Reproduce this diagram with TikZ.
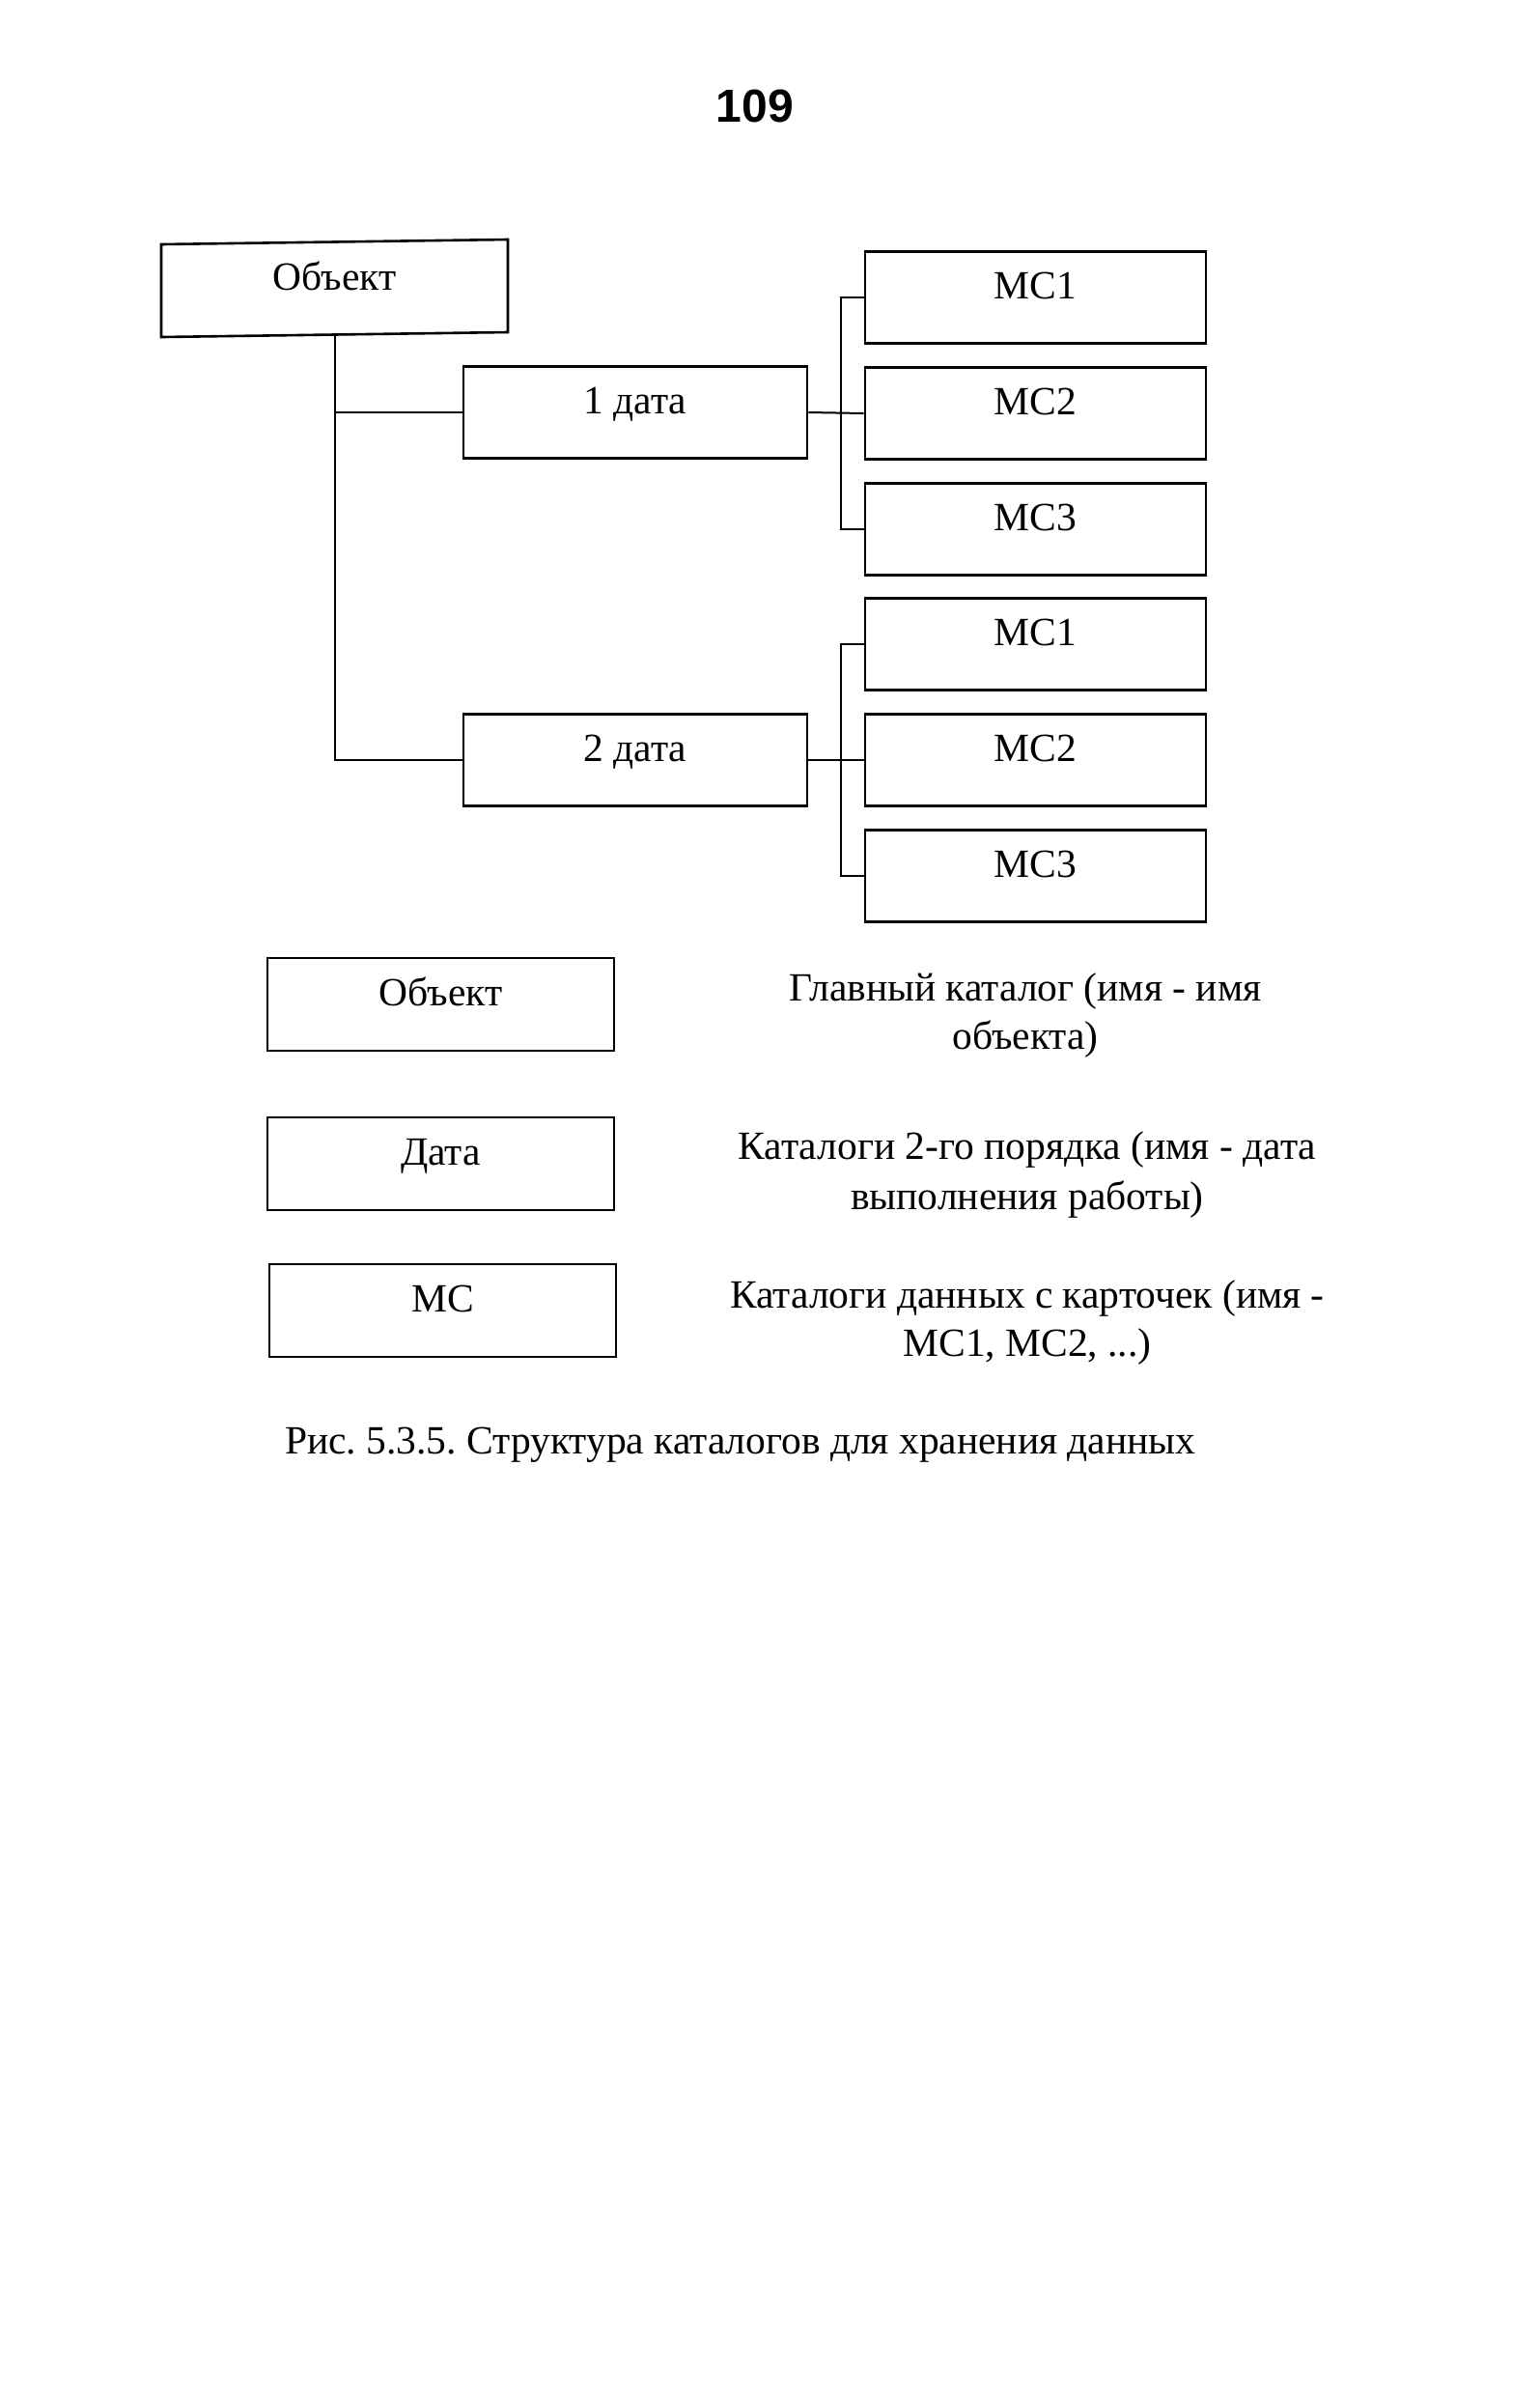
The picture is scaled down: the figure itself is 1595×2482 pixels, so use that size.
\documentclass[tikz,border=0pt]{standalone}
\usepackage{fontspec}
\setmainfont{Liberation Serif}
\newfontfamily\numfont{Liberation Sans}
\frenchspacing
\begin{document}
\begin{tikzpicture}[x=1pt,y=-1pt,
  txtfont/.style={font=\fontsize{41.5}{48}\selectfont},
  box/.style={draw, line width=2.6pt, inner sep=0pt, txtfont,
    text height=0.68em, text depth=0.32em},
  databox/.style={box, minimum width=356pt, minimum height=95pt},
  mcbox/.style={box, minimum width=353pt, minimum height=95pt},
  legbox/.style={box, minimum width=359pt, minimum height=96pt},
  legtxt/.style={inner sep=0pt, txtfont, text height=0.68em, text depth=0pt},
  conn/.style={line width=2pt}]
\useasboundingbox (0,0) rectangle (1595,2482);
\fill[white] (0,0) rectangle (1595,2482);

% page number
\node[inner sep=0pt, font=\numfont\bfseries\fontsize{48}{56}\selectfont, text height=0.72em, text depth=0pt] (pnum) at (782,123) {109};

% main catalogue (slightly skewed box)
\draw[line width=2.6pt] (167,253) -- (526,248) -- (526,344) -- (167,349) -- cycle;
\node[box, draw=none, minimum width=359pt, minimum height=96pt] (obj) at (346.5,298.5) {Объект};

% date catalogues
\node[databox] (d1) at (658,427) {1 дата};
\node[databox] (d2) at (658,787) {2 дата};

% MC catalogues
\node[mcbox] (m11) at (1072.5,308) {МС1};
\node[mcbox] (m12) at (1072.5,428) {МС2};
\node[mcbox] (m13) at (1072.5,548) {МС3};
\node[mcbox] (m21) at (1072.5,667) {МС1};
\node[mcbox] (m22) at (1072.5,787) {МС2};
\node[mcbox] (m23) at (1072.5,907) {МС3};

% connectors
\draw[conn] (obj.south) |- (d2.west);
\draw[conn] (obj.south |- d1.west) -- (d1.west);
\draw[conn] (d1.east) -- (m12.west);
\draw[conn] (m11.west) -- ++(-24,0) |- (m13.west);
\draw[conn] (d2.east) -- (m22.west);
\draw[conn] (m21.west) -- ++(-24,0) |- (m23.west);

% legend
\node[legbox] (l1) at (456.5,1040) {Объект};
\node[legbox] (l2) at (456.5,1205) {Дата};
\node[legbox] (l3) at (458.5,1357) {МС};

\node[legtxt] (t1a) at (1062,1033) {Главный каталог (имя - имя};
\node[legtxt] (t1b) at (1062,1083) {объекта)};
\node[legtxt] (t2a) at (1064,1197) {Каталоги 2-го порядка (имя - дата};
\node[legtxt] (t2b) at (1064,1249) {выполнения работы)};
\node[legtxt] (t3a) at (1064,1351) {Каталоги данных с карточек (имя -};
\node[legtxt] (t3b) at (1064,1401) {МС1, МС2, ...)};

% caption
\node[legtxt, anchor=west] (cap) at (295,1502) {Рис. 5.3.5. Структура каталогов для хранения данных};
\end{tikzpicture}
\end{document}
